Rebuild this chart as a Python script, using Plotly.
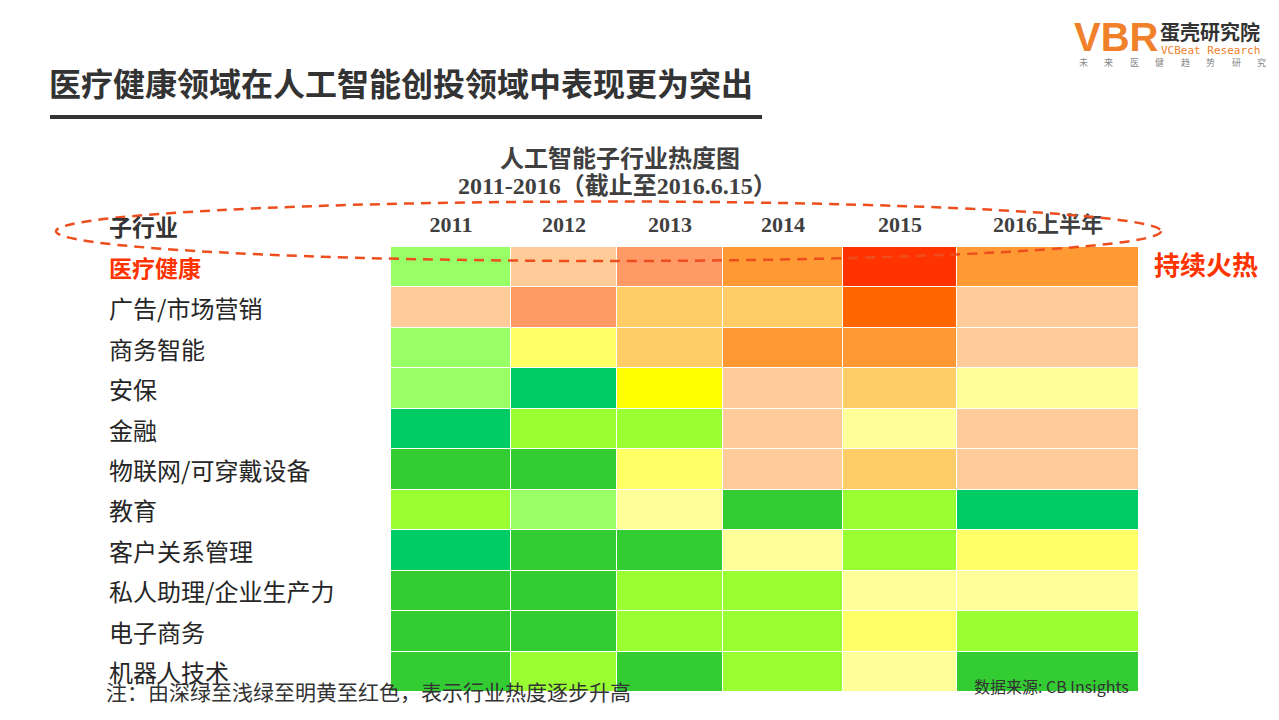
import numpy as np
import plotly.graph_objects as go

# ---------------- data ----------------
industries = ["医疗健康", "广告/市场营销", "商务智能", "安保", "金融", "物联网/可穿戴设备",
              "教育", "客户关系管理", "私人助理/企业生产力", "电子商务", "机器人技术"]
years = ["2011", "2012", "2013", "2014", "2015", "2016上半年"]

# heat level per industry (1 = coolest dark green ... 13 = hottest red)
heat_2011 = [4, 8, 4, 4, 1, 2, 3, 1, 2, 2, 2]
heat_2012 = [8, 10, 6, 1, 3, 2, 4, 2, 2, 2, 3]
heat_2013 = [10, 9, 9, 7, 3, 6, 5, 2, 3, 3, 2]
heat_2014 = [11, 9, 11, 8, 8, 8, 2, 5, 3, 3, 3]
heat_2015 = [13, 12, 11, 9, 5, 9, 3, 3, 5, 6, 5]
heat_2016 = [11, 8, 8, 5, 8, 8, 1, 6, 5, 3, 2]

level_colors = ["#00CC66", "#33CC33", "#99FF33", "#99FF66", "#FFFF99", "#FFFF66", "#FFFF00",
                "#FFCC99", "#FFCC66", "#FF9966", "#FF9933", "#FF6600", "#FF3300"]

# ---------------- layout config ----------------
W, H = 1279, 720
ML, MR, MT, MB = 391, 140, 247, 28
col_widths = [120, 106, 106, 120, 114, 182]
PW = W - ML - MR
PH = H - MT - MB


def px(x):
    return (x - ML) / PW


def py(y):
    return (H - MB - y) / PH


edges = np.concatenate([[0], np.cumsum(col_widths)])
centers = (edges[:-1] + edges[1:]) / 2

z = np.array([heat_2011, heat_2012, heat_2013, heat_2014, heat_2015, heat_2016]).T

n = len(level_colors)
colorscale = []
for i, c in enumerate(level_colors):
    colorscale.append([i / n, c])
    colorscale.append([(i + 1) / n, c])

CJK = "Noto Sans CJK SC"
SERIF = "Liberation Serif, Noto Sans CJK SC"
DARK = "#333333"

fig = go.Figure()
fig.add_trace(go.Heatmap(
    z=z, x=edges, y=industries,
    colorscale=colorscale, zmin=0.5, zmax=n + 0.5,
    showscale=False, xgap=1, ygap=1, hoverinfo="skip",
))

annotations = []
# row labels
for i, name in enumerate(industries):
    first = i == 0
    annotations.append(dict(
        x=px(107), xref="paper", y=name, yref="y", text=name, showarrow=False,
        xanchor="left", yanchor="middle",
        font=dict(family=CJK, size=24 if not first else 23,
                  color="#FF3300" if first else "#262626",
                  weight="bold" if first else "normal"),
    ))

# header
annotations.append(dict(x=px(107), y=py(226), xref="paper", yref="paper", text="子行业",
                        showarrow=False, xanchor="left", yanchor="middle",
                        font=dict(family=CJK, size=23, color=DARK, weight="bold")))
# main title
annotations.append(dict(x=px(47), y=py(82), xref="paper", yref="paper",
                        text="医疗健康领域在人工智能创投领域中表现更为突出",
                        showarrow=False, xanchor="left", yanchor="middle",
                        font=dict(family=CJK, size=32, color=DARK, weight="bold")))
# chart title
annotations.append(dict(x=px(620), y=py(157), xref="paper", yref="paper",
                        text="人工智能子行业热度图", showarrow=False,
                        xanchor="center", yanchor="middle",
                        font=dict(family=CJK, size=24, color="#404040", weight="bold")))
annotations.append(dict(x=px(617), y=py(186), xref="paper", yref="paper",
                        text="2011-2016（截止至2016.6.15）", showarrow=False,
                        xanchor="center", yanchor="middle",
                        font=dict(family=SERIF, size=24, color="#404040", weight="bold")))
# hot note
annotations.append(dict(x=px(1152), y=py(263), xref="paper", yref="paper",
                        text="持续火热", showarrow=False, xanchor="left", yanchor="middle",
                        font=dict(family=CJK, size=26, color="#FF3300", weight="bold")))
# footnotes
annotations.append(dict(x=px(104), y=py(691), xref="paper", yref="paper",
                        text="注：由深绿至浅绿至明黄至红色，表示行业热度逐步升高",
                        showarrow=False, xanchor="left", yanchor="middle",
                        font=dict(family=CJK, size=21, color=DARK)))
annotations.append(dict(x=px(1131), y=py(686), xref="paper", yref="paper",
                        text="数据来源: CB Insights", showarrow=False,
                        xanchor="right", yanchor="middle",
                        font=dict(family=CJK, size=16, color=DARK)))
# logo
annotations.append(dict(x=px(1072), y=py(37), xref="paper", yref="paper", text="VBR",
                        showarrow=False, xanchor="left", yanchor="middle",
                        font=dict(family="Liberation Sans", size=40, color="#F0802A",
                                  weight="bold")))
annotations.append(dict(x=px(1158), y=py(32), xref="paper", yref="paper", text="蛋壳研究院",
                        showarrow=False, xanchor="left", yanchor="middle",
                        font=dict(family=CJK, size=20, color=DARK, weight="bold")))
annotations.append(dict(x=px(1159), y=py(50), xref="paper", yref="paper",
                        text="VCBeat Research", showarrow=False, xanchor="left",
                        yanchor="middle",
                        font=dict(family="DejaVu Sans Mono", size=11, color="#F0802A")))
for k, ch in enumerate("未来医健趋势研究"):
    annotations.append(dict(x=px(1083 + k * 25.5), y=py(63), xref="paper", yref="paper",
                            text=ch, showarrow=False, xanchor="center", yanchor="middle",
                            font=dict(family=CJK, size=9, color="#888888")))

shapes = [
    dict(type="rect", xref="paper", yref="paper", x0=px(50), x1=px(762),
         y0=py(119), y1=py(115), fillcolor=DARK, line=dict(width=0)),
    dict(type="circle", xref="paper", yref="paper", x0=px(56), x1=px(1161),
         y0=py(261), y1=py(201.5), layer="above",
         line=dict(color="#EE4E1E", width=2.5, dash="10px,7px")),
]

fig.update_layout(
    width=W, height=H,
    margin=dict(l=ML, r=MR, t=MT, b=MB),
    paper_bgcolor="white", plot_bgcolor="white",
    annotations=annotations, shapes=shapes,
    xaxis=dict(range=[0, edges[-1]], side="top", tickvals=centers, ticktext=years,
               ticks="", showgrid=False, zeroline=False, showline=False,
               ticklabelstandoff=10,
               tickfont=dict(family=SERIF, size=22, color="#404040", weight="bold")),
    yaxis=dict(autorange="reversed", showticklabels=False, showgrid=False,
               zeroline=False, showline=False, ticks=""),
)

fig.write_html("out.html", config={"displayModeBar": False},
               post_script="document.body.style.margin='0';")
